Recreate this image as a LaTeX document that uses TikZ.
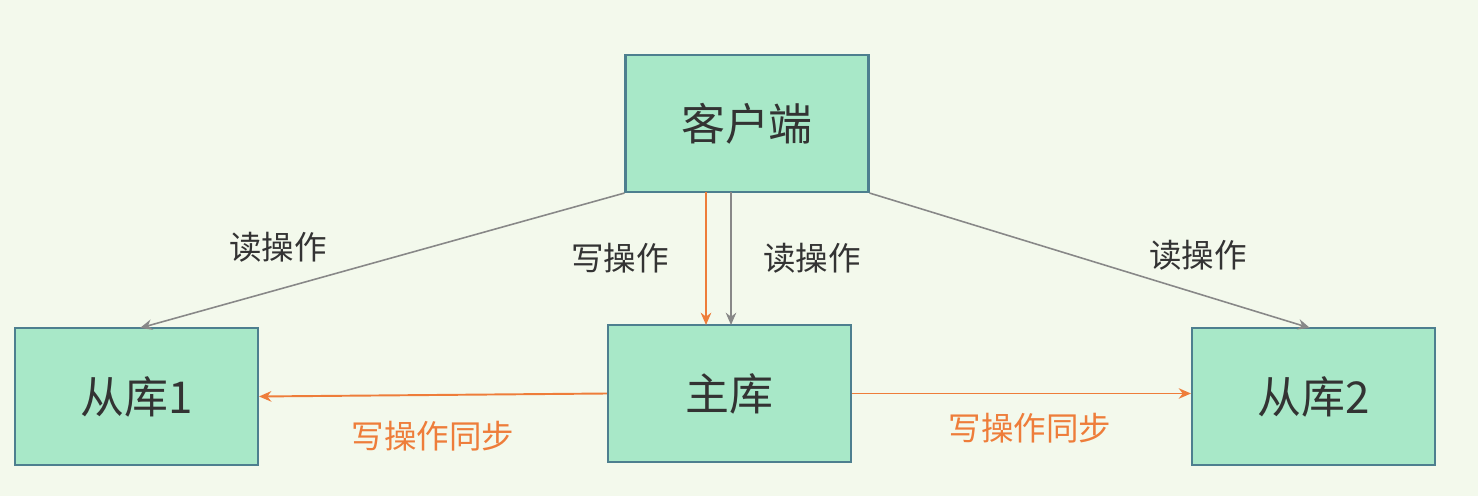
\documentclass[tikz,border=0pt]{standalone}
\usepackage{fontspec}
\newfontfamily\cjk{Noto Sans CJK SC}
\usetikzlibrary{arrows.meta}
\definecolor{bg}{HTML}{F3F9EC}
\definecolor{boxfill}{HTML}{A8E8C8}
\definecolor{boxdraw}{HTML}{4D7F8F}
\definecolor{org}{HTML}{EE7D3A}
\definecolor{gry}{HTML}{888888}
\definecolor{txt}{HTML}{333333}
\begin{document}
\begin{tikzpicture}[x=0.02cm,y=-0.02cm,
 box/.style={draw=boxdraw,line width=1.2pt,fill=boxfill,minimum width=4.86cm,minimum height=2.74cm,font=\cjk\fontsize{25}{30}\selectfont,text=txt,inner sep=0pt},
 lbl/.style={font=\cjk\fontsize{18.5}{22}\selectfont,text=txt},
 olbl/.style={font=\cjk\fontsize{18.5}{22}\selectfont,text=org},
 garr/.style={draw=gry,line width=0.9pt,-{Stealth[length=7pt,width=6pt]}},
 oarr/.style={draw=org,line width=1.1pt,-{Stealth[length=7pt,width=6pt]}}]
\fill[bg] (0,0) rectangle (1478,496);
\useasboundingbox (0,0) rectangle (1478,496);
\node[box] (c) at (747,123.5) {客户端};
\node[box] (s1) at (136.5,396.5) {从库1};
\node[box] (m) at (729.5,393.5) {主库};
\node[box] (s2) at (1313.5,396.5) {从库2};
\coordinate (cw) at (706,192);
\coordinate (cr) at (731,192);
\coordinate (mw) at (706,325);
\coordinate (mr) at (731,325);
\draw[garr] (c.south west) -- (140,328);
\draw[garr] (c.south east) -- (1310,328);
\draw[oarr] (cw) -- (mw);
\draw[garr] (cr) -- (mr);
\draw[oarr] (m.west) -- (s1.east);
\draw[oarr] (m.east) -- (s2.west |- m.east);
\node[lbl] (l1) at (278,247) {读操作};
\node[lbl] (l2) at (620,258) {写操作};
\node[lbl] (l3) at (812,258) {读操作};
\node[lbl] (l4) at (1198,255) {读操作};
\node[olbl] (l5) at (433,436) {写操作同步};
\node[olbl] (l6) at (1030,428) {写操作同步};
\end{tikzpicture}
\end{document}
